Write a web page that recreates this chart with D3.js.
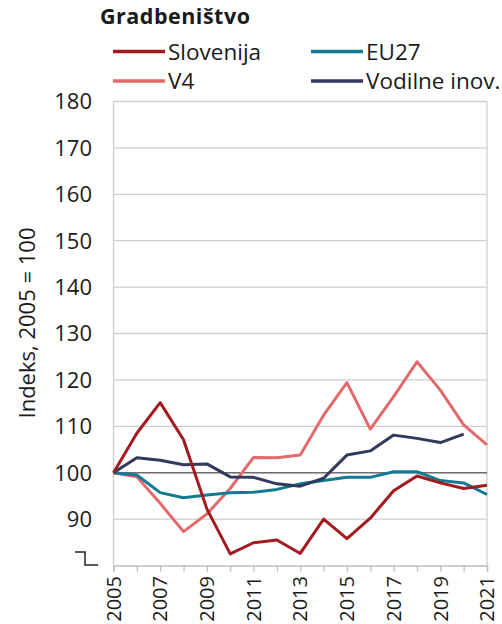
<!DOCTYPE html>
<html>
<head>
<meta charset="utf-8">
<script src="https://cdn.jsdelivr.net/npm/d3@7"></script>
<style>
  body { margin: 0; background: #fff; }
  svg text { font-family: "Open Sans", "Noto Sans", sans-serif; fill: #1a1a1a; }
</style>
</head>
<body>
<div id="main"></div>
<script>
"use strict";

var years = d3.range(2005, 2022);
var yTicks = [90, 100, 110, 120, 130, 140, 150, 160, 170, 180];
var xTickLabels = [2005, 2007, 2009, 2011, 2013, 2015, 2017, 2019, 2021];

var slovenija = [100, 108.5, 115.1, 107.1, 92.2, 82.5, 84.9, 85.5, 82.6, 90.0, 85.8, 90.2, 96.1, 99.3, 97.8, 96.6, 97.3];
var v4 = [100, 99.1, 93.4, 87.3, 91.1, 96.6, 103.3, 103.2, 103.8, 112.4, 119.4, 109.4, 116.4, 123.9, 117.8, 110.3, 106.0];
var eu27 = [100, 99.5, 95.7, 94.6, 95.2, 95.7, 95.8, 96.4, 97.6, 98.3, 99.0, 99.0, 100.2, 100.2, 98.3, 97.8, 95.3];
var vodilne = [100, 103.2, 102.7, 101.7, 101.9, 99.1, 99.0, 97.6, 97.1, 98.8, 103.8, 104.7, 108.1, 107.4, 106.5, 108.3, null];

var seriesNames = ["Slovenija", "EU27", "V4", "Vodilne inov."];
var seriesColors = ["#a4191f", "#137a93", "#e36a6c", "#2f3a5c"];
var seriesValues = [slovenija, eu27, v4, vodilne];

var W = 502, H = 624;
var plotL = 113.5, plotR = 487, plotT = 101.5, plotB = 565.5;

var svg = d3.select("#main").append("svg")
    .attr("width", W).attr("height", H);

var x = d3.scaleLinear().domain([2005, 2021]).range([plotL, plotR]);
var y = d3.scaleLinear().domain([80, 180]).range([plotB, plotT]);

// grid
svg.append("g").selectAll("line").data(yTicks).join("line")
    .attr("x1", plotL).attr("x2", plotR)
    .attr("y1", function(d){ return y(d); }).attr("y2", function(d){ return y(d); })
    .attr("stroke", "#cfcfcf").attr("stroke-width", 1.3);

svg.append("line").attr("x1", plotL).attr("x2", plotL).attr("y1", plotT).attr("y2", plotB)
    .attr("stroke", "#cfcfcf").attr("stroke-width", 1.3);
svg.append("line").attr("x1", plotR).attr("x2", plotR).attr("y1", plotT).attr("y2", plotB)
    .attr("stroke", "#cfcfcf").attr("stroke-width", 1.3);

// y labels
svg.append("g").selectAll("text").data(yTicks).join("text")
    .attr("x", 92).attr("y", function(d){ return y(d); })
    .attr("dy", "0.36em").attr("text-anchor", "end")
    .style("font-size", "22px")
    .text(function(d){ return d; });

// axis break mark
svg.append("path")
    .attr("d", "M75,552 H85 V565 H98")
    .attr("fill", "none").attr("stroke", "#222").attr("stroke-width", 1.5);

// x axis
var xAxis = d3.axisBottom(x).tickValues(years).tickSize(6).tickFormat("");
var gx = svg.append("g").attr("transform", "translate(0," + plotB + ")").call(xAxis);
gx.select(".domain").attr("stroke", "#bdbdbd").attr("stroke-width", 1.3);
gx.selectAll(".tick line").attr("stroke", "#bdbdbd").attr("stroke-width", 1.3);

svg.append("g").selectAll("text").data(xTickLabels).join("text")
    .attr("transform", function(d){ return "translate(" + x(d) + "," + 576 + ") rotate(-90)"; })
    .attr("dy", "0.36em").attr("text-anchor", "end")
    .style("font-size", "20px")
    .text(function(d){ return d; });

// 100 reference line
svg.append("line").attr("x1", plotL).attr("x2", plotR)
    .attr("y1", y(100)).attr("y2", y(100))
    .attr("stroke", "#6e6e6e").attr("stroke-width", 1.6);

// series lines, draw order: V4, EU27, Vodilne, Slovenija
var line = d3.line()
    .defined(function(d){ return d != null; })
    .x(function(d, i){ return x(years[i]); })
    .y(function(d){ return y(d); });

[2, 1, 3, 0].forEach(function(k){
    svg.append("path").datum(seriesValues[k])
        .attr("d", line)
        .attr("fill", "none")
        .attr("stroke", seriesColors[k])
        .attr("stroke-width", 3)
        .attr("stroke-linejoin", "round");
});

// title
svg.append("text").attr("x", 100).attr("y", 23.5)
    .style("font-size", "21.5px").style("font-weight", "bold")
    .style("letter-spacing", "0.5px")
    .text("Gradbeništvo");

// legend
var legendPos = [[113, 51.5], [311, 51.5], [113, 81], [311, 81]];
seriesNames.forEach(function(name, i){
    var p = legendPos[i];
    svg.append("line").attr("x1", p[0]).attr("x2", p[0] + 52)
        .attr("y1", p[1]).attr("y2", p[1])
        .attr("stroke", seriesColors[i]).attr("stroke-width", 3.5);
    svg.append("text").attr("x", p[0] + 55).attr("y", p[1])
        .attr("dy", "0.36em")
        .style("font-size", "22.5px")
        .text(name);
});

// y axis title
svg.append("text")
    .attr("transform", "translate(27,323) rotate(-90)")
    .attr("text-anchor", "middle").attr("dy", "0.36em")
    .style("font-size", "22px")
    .text("Indeks, 2005 = 100");
</script>
</body>
</html>
